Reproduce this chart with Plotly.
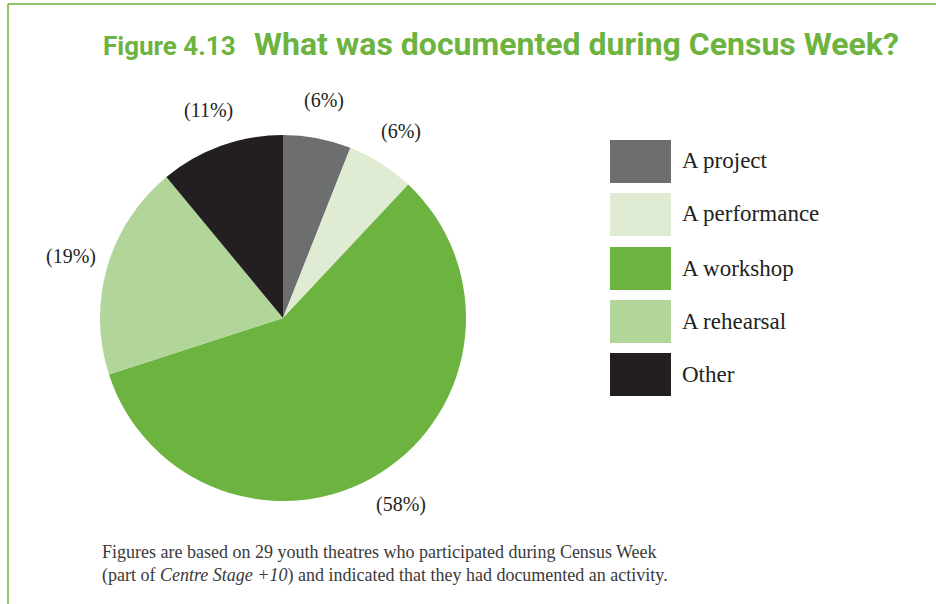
import math
import plotly.graph_objects as go

# Share of youth theatres by what they documented during Census Week (%)
categories = ["A project", "A performance", "A workshop", "A rehearsal", "Other"]
shares = [6, 6, 58, 19, 11]
colors = ["#6d6e70", "#dfebd3", "#6cb33f", "#b2d59a", "#231f20"]

W, H = 936, 604
GREEN = "#6cb33f"
SERIF = "Liberation Serif, DejaVu Serif, serif"
TITLE_FONT = "Roboto, Liberation Sans, sans-serif"

# pie geometry in pixels
CX, CY, R = 283, 318, 183
LABEL_R = 221


def px_x(x):
    return x / W


def px_y(y):
    return 1 - y / H


fig = go.Figure()
fig.add_trace(go.Pie(
    labels=categories,
    values=shares,
    marker=dict(colors=colors, line=dict(width=0)),
    sort=False,
    direction="clockwise",
    rotation=0,
    textinfo="none",
    domain=dict(x=[px_x(CX - R), px_x(CX + R)], y=[px_y(CY + R), px_y(CY - R)]),
    showlegend=False,
    hoverinfo="label+percent",
))

shapes = [
    # frame lines along the top and left edge
    dict(type="line", xref="paper", yref="paper", x0=px_x(8), x1=1, y0=px_y(4), y1=px_y(4),
         line=dict(color=GREEN, width=1.5)),
    dict(type="line", xref="paper", yref="paper", x0=px_x(8), x1=px_x(8), y0=px_y(4), y1=0,
         line=dict(color=GREEN, width=1.5)),
]
annotations = []

# value labels just outside each slice, at the slice's mid angle (clockwise from 12 o'clock)
total = sum(shares)
cum = 0
for v in shares:
    mid = (cum + v / 2) / total * 2 * math.pi
    cum += v
    lx = CX + LABEL_R * math.sin(mid)
    ly = CY - LABEL_R * math.cos(mid)
    annotations.append(dict(xref="paper", yref="paper", x=px_x(lx), y=px_y(ly),
                            xanchor="center", yanchor="middle", showarrow=False,
                            text=f"({v}%)",
                            font=dict(family=SERIF, size=20, color="#231f20")))

# custom legend with large swatches
legend_top = [140, 193, 247, 300, 353]
for cat, col, top in zip(categories, colors, legend_top):
    shapes.append(dict(type="rect", xref="paper", yref="paper",
                       x0=px_x(610), x1=px_x(671), y0=px_y(top + 43), y1=px_y(top),
                       fillcolor=col, line=dict(width=0)))
    annotations.append(dict(xref="paper", yref="paper", x=px_x(680), y=px_y(top + 21),
                            xanchor="left", yanchor="middle", showarrow=False, text=cat,
                            font=dict(family=SERIF, size=23, color="#231f20")))

# title
annotations.append(dict(xref="paper", yref="paper", x=px_x(101), y=px_y(46),
                        xanchor="left", yanchor="middle", showarrow=False,
                        text="<b>Figure 4.13</b>",
                        font=dict(family=TITLE_FONT, size=26, color=GREEN)))
annotations.append(dict(xref="paper", yref="paper", x=px_x(252), y=px_y(44),
                        xanchor="left", yanchor="middle", showarrow=False,
                        text="<b>What was documented during Census Week?</b>",
                        font=dict(family=TITLE_FONT, size=32, color=GREEN)))

# footnote
annotations.append(dict(xref="paper", yref="paper", x=px_x(100), y=px_y(564),
                        xanchor="left", yanchor="middle", showarrow=False, align="left",
                        text="Figures are based on 29 youth theatres who participated during Census Week<br>"
                             "(part of <i>Centre Stage +10</i>) and indicated that they had documented an activity.",
                        font=dict(family=SERIF, size=18, color="#3a3a3a")))

fig.update_layout(
    width=W, height=H,
    margin=dict(l=0, r=0, t=0, b=0),
    paper_bgcolor="white",
    plot_bgcolor="white",
    shapes=shapes,
    annotations=annotations,
)

fig.write_html("out.html")
